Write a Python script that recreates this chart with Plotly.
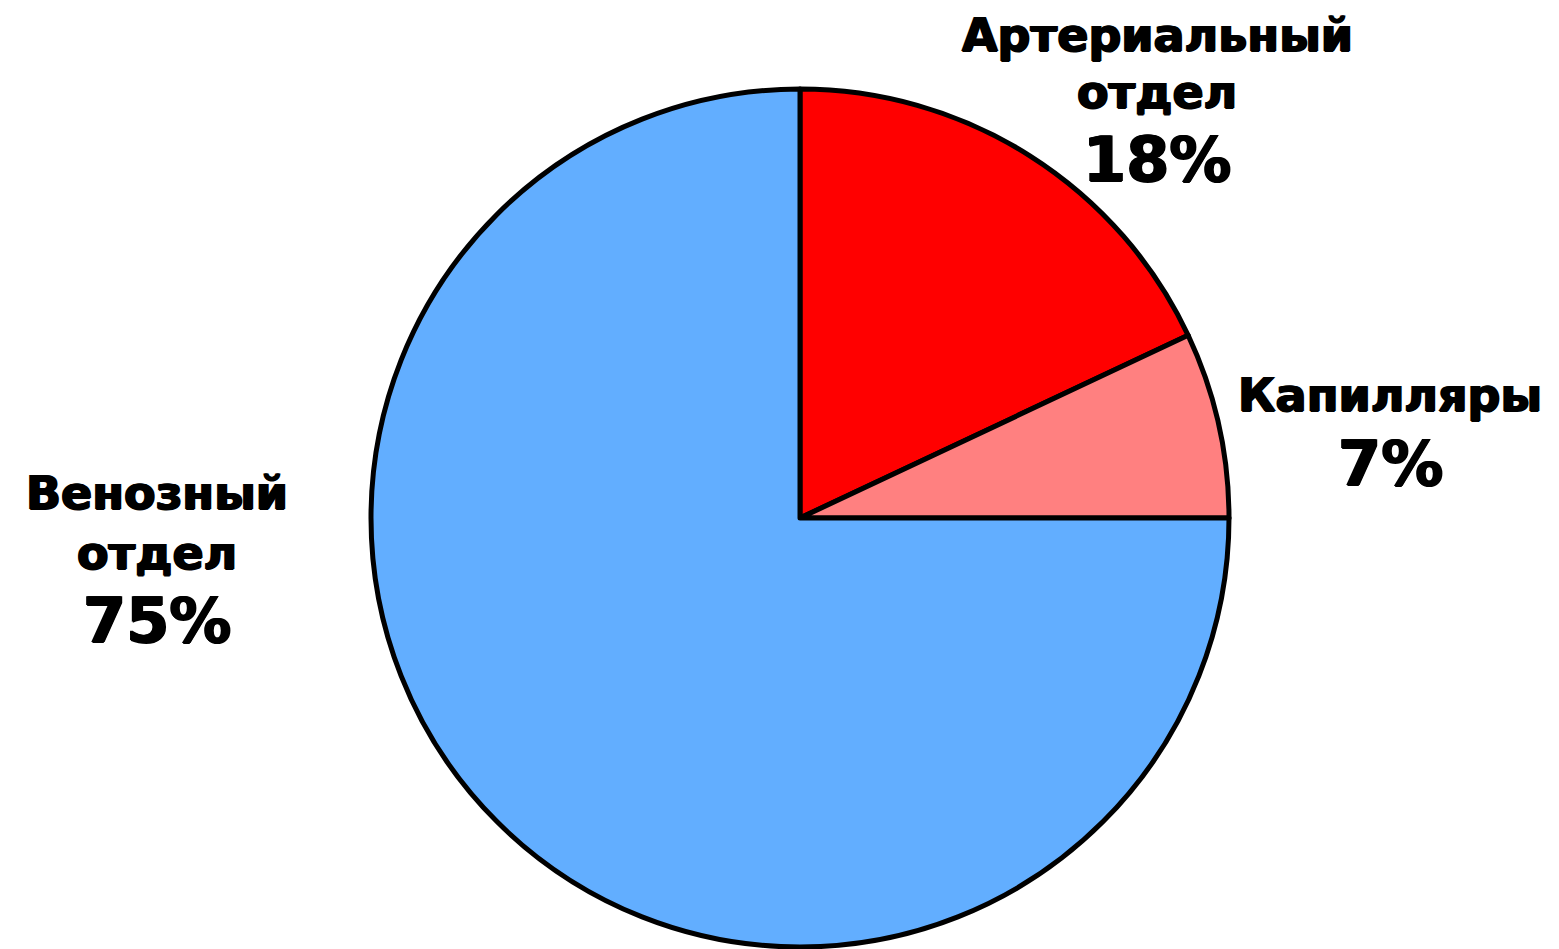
import plotly.graph_objects as go

labels = ["Артериальный отдел", "Капилляры", "Венозный отдел"]
values = [18, 7, 75]
colors = ["#FF0000", "#FF8080", "#62AEFF"]
name_lines = [["Артериальный", "отдел"], ["Капилляры"], ["Венозный", "отдел"]]
pct_text = ["18%", "7%", "75%"]

W, H = 1559, 949
cx, cy, r = 800, 518, 429

fig = go.Figure(go.Pie(
    labels=labels, values=values, sort=False, direction="clockwise",
    marker=dict(colors=colors, line=dict(color="black", width=5)),
    textinfo="none", hoverinfo="label+percent",
    domain=dict(x=[(cx - r) / W, (cx + r) / W], y=[(H - cy - r) / H, (H - cy + r) / H]),
    showlegend=False,
))

font_name = "DejaVu Sans"
shadow = "1px 0px 0px black, -1px 0px 0px black, 0px 1px 0px black"
pos = [
    (1157, [35, 92], 160),
    (1390, [395], 463),
    (157, [493, 553], 620),
]
ann = []
for i, (x, ys, yp) in enumerate(pos):
    for line, y in zip(name_lines[i], ys):
        ann.append(dict(x=x / W, y=1 - y / H, xref="paper", yref="paper", text="<b>" + line + "</b>",
                        showarrow=False, xanchor="center", yanchor="middle",
                        font=dict(family=font_name, size=46, color="black", shadow=shadow)))
    ann.append(dict(x=x / W, y=1 - yp / H, xref="paper", yref="paper", text="<b>" + pct_text[i] + "</b>",
                    showarrow=False, xanchor="center", yanchor="middle",
                    font=dict(family=font_name, size=62, color="black", shadow=shadow)))

fig.update_layout(width=W, height=H, margin=dict(l=0, r=0, t=0, b=0),
                  paper_bgcolor="white", plot_bgcolor="white", annotations=ann)
fig.write_html("out.html")
